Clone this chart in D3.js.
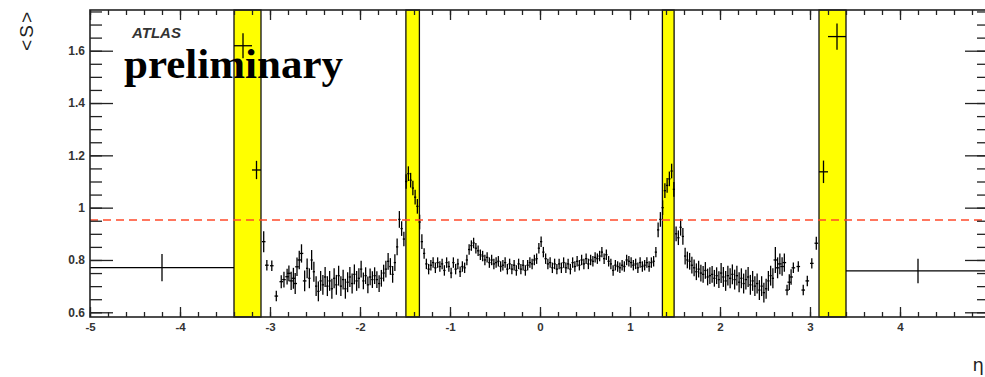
<!DOCTYPE html>
<html>
<head>
<meta charset="utf-8">
<script src="https://cdn.jsdelivr.net/npm/d3@7"></script>
<style>
  body { margin: 0; background: #fff; }
  svg { display: block; }
  .tick text { font-family: "Liberation Sans", Arial, sans-serif; font-weight: bold; fill: #333; }
</style>
</head>
<body>
<svg id="chart" width="985" height="377"></svg>
<script>
// eta regions not covered by the measurement (yellow bands)
var crackLo = [-3.4, -1.49, 1.36, 3.1];
var crackHi = [-3.1, -1.34, 1.49, 3.4];

// wide bins (forward calorimeter + crack bins)
var wideLo  = [-5, -3.4, -3.2, 3.1, 3.2, 3.4];
var wideHi  = [-3.4, -3.2, -3.1, 3.2, 3.4, 5];
var wideS   = [0.771, 1.619, 1.144, 1.137, 1.654, 0.758];
var wideErr = [0.052, 0.048, 0.035, 0.043, 0.05, 0.047];

// sparse points near |eta| ~ 3
var sparseLeftEta = [-3.07, -3.035, -2.98, -2.93, -2.875, -2.845, -2.81, -2.79, -2.765, -2.74, -2.72, -2.70, -2.675, -2.65, -2.615];
var sparseLeftS   = [0.87, 0.78, 0.778, 0.662, 0.717, 0.725, 0.736, 0.749, 0.72, 0.73, 0.71, 0.774, 0.80, 0.825, 0.72];
var sparseLeftErr = [0.04, 0.02, 0.02, 0.02, 0.025, 0.03, 0.03, 0.03, 0.035, 0.04, 0.04, 0.035, 0.035, 0.035, 0.04];
var sparseRightEta = [2.615, 2.64, 2.665, 2.69, 2.715, 2.745, 2.77, 2.79, 2.815, 2.87, 2.925, 2.97, 3.02, 3.07];
var sparseRightS   = [0.80, 0.77, 0.785, 0.775, 0.79, 0.685, 0.715, 0.735, 0.77, 0.775, 0.685, 0.72, 0.787, 0.864];
var sparseRightErr = [0.05, 0.04, 0.04, 0.035, 0.035, 0.02, 0.03, 0.03, 0.02, 0.02, 0.02, 0.02, 0.02, 0.025];
var sparseHalfW = 0.02;

// dense histogram, bins of 0.025 from -2.6 to 2.6
var denseLo = -2.6;
var denseBinW = 0.025;
var denseS = [
  0.768, 0.73, 0.80, 0.755, 0.70, 0.68, 0.72, 0.705, 0.735, 0.70,
  0.72, 0.69, 0.73, 0.705, 0.74, 0.70, 0.725, 0.69, 0.715, 0.735,
  0.71, 0.745, 0.72, 0.73, 0.765, 0.72, 0.74, 0.705, 0.735, 0.725,
  0.74, 0.725, 0.71, 0.73, 0.75, 0.765, 0.795, 0.775, 0.745, 0.79,
  0.85, 0.955, 0.92, 0.88, 1.10, 1.13, 1.105, 1.075, 1.04, 1.005,
  0.945, 0.87, 0.825, 0.785, 0.765, 0.78, 0.79, 0.77, 0.79, 0.775,
  0.785, 0.76, 0.79, 0.775, 0.75, 0.79, 0.765, 0.785, 0.755, 0.775,
  0.77, 0.80, 0.84, 0.855, 0.865, 0.845, 0.835, 0.82, 0.815, 0.80,
  0.81, 0.79, 0.80, 0.785, 0.79, 0.795, 0.775, 0.78, 0.79, 0.765,
  0.785, 0.765, 0.78, 0.76, 0.785, 0.765, 0.78, 0.76, 0.78, 0.79,
  0.785, 0.80, 0.805, 0.845, 0.87, 0.83, 0.805, 0.785, 0.79, 0.77,
  0.785, 0.765, 0.785, 0.77, 0.79, 0.77, 0.785, 0.765, 0.79, 0.775,
  0.795, 0.78, 0.80, 0.785, 0.805, 0.785, 0.80, 0.795, 0.81, 0.805,
  0.815, 0.83, 0.805, 0.82, 0.795, 0.785, 0.76, 0.78, 0.775, 0.77,
  0.78, 0.775, 0.80, 0.795, 0.79, 0.78, 0.785, 0.77, 0.79, 0.775,
  0.78, 0.79, 0.775, 0.79, 0.795, 0.83, 0.915, 0.955, 1.0, 1.065,
  1.085, 1.11, 1.14, 1.07, 0.90, 0.885, 0.925, 0.89, 0.815, 0.80,
  0.795, 0.78, 0.77, 0.755, 0.765, 0.75, 0.745, 0.76, 0.735, 0.74,
  0.745, 0.73, 0.74, 0.725, 0.75, 0.735, 0.72, 0.74, 0.73, 0.745,
  0.725, 0.74, 0.715, 0.73, 0.71, 0.725, 0.735, 0.705, 0.72, 0.70,
  0.71, 0.685, 0.70, 0.675, 0.69, 0.72, 0.74, 0.73
];
// typical error per |eta| range [upper |eta| limit, error]
var errBands = [[1.3, 0.02], [1.55, 0.028], [2.0, 0.032], [9, 0.038]];

var refLine = 0.953;
var xMajor = [-5, -4, -3, -2, -1, 0, 1, 2, 3, 4, 5];
var xLabels = [-5, -4, -3, -2, -1, 0, 1, 2, 3, 4];
var yMajor = [0.6, 0.8, 1.0, 1.2, 1.4, 1.6];

var svg = d3.select("#chart");
var frame = {left: 90, right: 990, top: 10, bottom: 317};

var x = d3.scaleLinear().domain([-5, 5]).range([frame.left, frame.right]);
var y = d3.scaleLinear().domain([0.582, 1.7556]).range([frame.bottom, frame.top]);

// build point list
var points = [];
denseS.forEach(function(s, i) {
  var lo = denseLo + i * denseBinW;
  var c = lo + denseBinW / 2;
  var a = Math.abs(c), e = 0.03;
  for (var k = 0; k < errBands.length; k++) { if (a < errBands[k][0]) { e = errBands[k][1]; break; } }
  points.push({lo: lo, hi: lo + denseBinW, c: c, s: s, e: e});
});
sparseLeftEta.forEach(function(eta, i) {
  points.push({lo: eta - sparseHalfW, hi: eta + sparseHalfW, c: eta, s: sparseLeftS[i], e: sparseLeftErr[i]});
});
sparseRightEta.forEach(function(eta, i) {
  points.push({lo: eta - sparseHalfW, hi: eta + sparseHalfW, c: eta, s: sparseRightS[i], e: sparseRightErr[i]});
});
wideLo.forEach(function(lo, i) {
  points.push({lo: lo, hi: wideHi[i], c: (lo + wideHi[i]) / 2, s: wideS[i], e: wideErr[i]});
});

// crack bands
var bands = svg.append("g");
crackLo.forEach(function(lo, i) {
  bands.append("rect")
    .attr("x", x(lo)).attr("y", frame.top)
    .attr("width", x(crackHi[i]) - x(lo))
    .attr("height", frame.bottom - frame.top)
    .attr("fill", "#ffff00")
    .attr("stroke", "#111").attr("stroke-width", 1.3);
});

// data with error bars
var pts = svg.append("g").attr("stroke", "#000").attr("stroke-width", 1.3);
pts.selectAll("line.h").data(points).enter().append("line")
  .attr("class", "h")
  .attr("x1", function(d) { return x(d.lo); })
  .attr("x2", function(d) { return x(d.hi); })
  .attr("y1", function(d) { return y(d.s); })
  .attr("y2", function(d) { return y(d.s); });
pts.selectAll("line.v").data(points).enter().append("line")
  .attr("class", "v")
  .attr("x1", function(d) { return x(d.c); })
  .attr("x2", function(d) { return x(d.c); })
  .attr("y1", function(d) { return y(d.s - d.e); })
  .attr("y2", function(d) { return y(d.s + d.e); });

// reference line
svg.append("line")
  .attr("x1", frame.left).attr("x2", frame.right)
  .attr("y1", y(refLine)).attr("y2", y(refLine))
  .attr("stroke", "#ff4a2a").attr("stroke-width", 1.5)
  .attr("stroke-dasharray", "8,5");

// axes (ROOT style ticks inside the frame)
var xMinor = d3.range(-50, 51, 2).map(function(v) { return v / 10; });
var yMinor = d3.range(12, 36).map(function(v) { return v * 0.05; });
var fmt = function(d) { return String(+d.toFixed(1)); };

function axisStyle(g) {
  g.select(".domain").remove();
  g.selectAll("line").attr("stroke", "#222").attr("stroke-width", 1.3);
}

svg.append("g").attr("transform", "translate(0," + frame.bottom + ")")
  .call(d3.axisBottom(x).tickValues(xMinor).tickSize(-5).tickFormat("")).call(axisStyle);
svg.append("g").attr("transform", "translate(0," + frame.bottom + ")")
  .call(d3.axisBottom(x).tickValues(xMajor).tickSize(-10).tickFormat("")).call(axisStyle);
svg.append("g").attr("transform", "translate(0," + frame.bottom + ")")
  .call(d3.axisBottom(x).tickValues(xLabels).tickSize(0).tickPadding(6).tickFormat(fmt))
  .call(axisStyle)
  .selectAll("text").attr("font-size", 11.5).attr("dy", "0.71em").attr("y", 6);
svg.append("g").attr("transform", "translate(0," + frame.top + ")")
  .call(d3.axisTop(x).tickValues(xMinor).tickSize(-5).tickFormat("")).call(axisStyle);
svg.append("g").attr("transform", "translate(0," + frame.top + ")")
  .call(d3.axisTop(x).tickValues(xMajor).tickSize(-10).tickFormat("")).call(axisStyle);

svg.append("g").attr("transform", "translate(" + frame.left + ",0)")
  .call(d3.axisLeft(y).tickValues(yMinor).tickSize(-12).tickFormat("")).call(axisStyle);
svg.append("g").attr("transform", "translate(" + frame.left + ",0)")
  .call(d3.axisLeft(y).tickValues(yMajor).tickSize(-23).tickPadding(5).tickFormat(fmt))
  .call(axisStyle)
  .selectAll("text").attr("font-size", 12).attr("x", -5);
svg.append("g").attr("transform", "translate(" + frame.right + ",0)")
  .call(d3.axisRight(y).tickValues(yMinor).tickSize(-13).tickFormat("")).call(axisStyle);
svg.append("g").attr("transform", "translate(" + frame.right + ",0)")
  .call(d3.axisRight(y).tickValues(yMajor).tickSize(-25).tickFormat("")).call(axisStyle);

// frame
svg.append("rect")
  .attr("x", frame.left).attr("y", frame.top)
  .attr("width", frame.right - frame.left).attr("height", frame.bottom - frame.top)
  .attr("fill", "none").attr("stroke", "#222").attr("stroke-width", 1.6);

// titles
svg.append("text")
  .attr("transform", "translate(33,10) rotate(-90)")
  .attr("text-anchor", "end")
  .attr("font-family", "Liberation Sans, Arial, sans-serif")
  .attr("font-size", 19).attr("letter-spacing", 2).attr("fill", "#222")
  .text("<S>");
svg.append("text")
  .attr("x", 984).attr("y", 371)
  .attr("text-anchor", "end")
  .attr("font-family", "DejaVu Sans, sans-serif")
  .attr("font-size", 18).attr("fill", "#222")
  .text("η");
svg.append("text")
  .attr("x", 132).attr("y", 38)
  .attr("font-family", "Liberation Sans, Arial, sans-serif")
  .attr("font-weight", "bold").attr("font-style", "italic")
  .attr("font-size", 15).attr("fill", "#333")
  .text("ATLAS");
svg.append("text")
  .attr("x", 124).attr("y", 78)
  .attr("font-family", "Liberation Serif, Times New Roman, serif")
  .attr("font-weight", "bold")
  .attr("font-size", 43).attr("fill", "#000")
  .text("preliminary");
</script>
</body>
</html>
